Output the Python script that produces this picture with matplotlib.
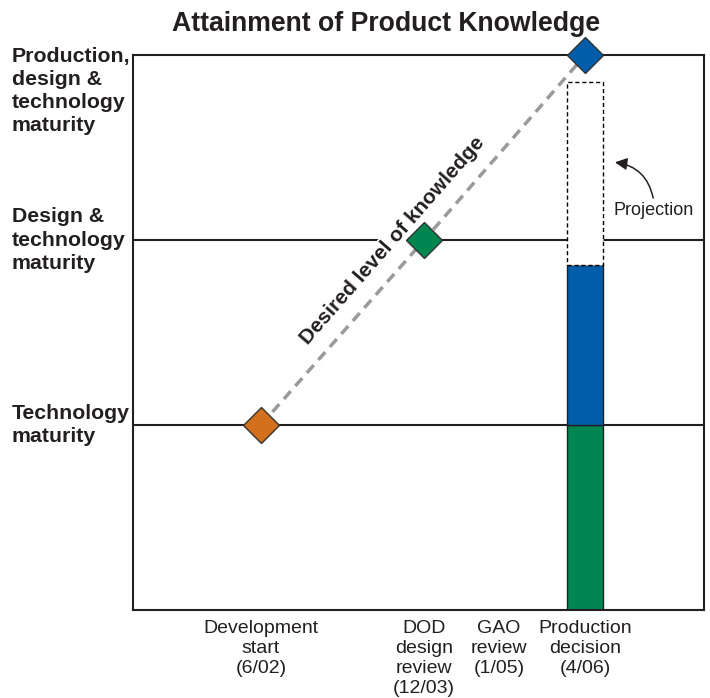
import matplotlib
matplotlib.use("Agg")
import matplotlib.pyplot as plt
import numpy as np
from matplotlib.transforms import blended_transform_factory

plt.rcParams['font.family'] = ['Liberation Sans', 'DejaVu Sans']

# ---------------- data ----------------
title = "Attainment of Product Knowledge"
milestones = ["Development\nstart\n(6/02)", "DOD\ndesign\nreview\n(12/03)",
              "GAO\nreview\n(1/05)", "Production\ndecision\n(4/06)"]
knowledge_levels = ["Technology\nmaturity", "Design &\ntechnology\nmaturity",
                    "Production,\ndesign &\ntechnology\nmaturity"]
level_values = [1, 2, 3]

desired_milestone_idx = [0, 1, 3]
desired_levels = [1, 2, 3]
desired_colors = ["#D2701E", "#008651", "#005DAA"]
desired_label = "Desired level of knowledge"

attained_milestone_idx = 3
attained_segments = ["Technology", "Design", "Projection"]
attained_bottom = [0.0, 1.0, 1.865]
attained_height = [1.0, 0.865, 0.99]
attained_colors = ["#008651", "#005DAA", "white"]
projection_label = "Projection"

# ---------------- layout ----------------
milestone_pos = [2.24, 5.10, 6.41, 7.92]
W, H = 710, 698
fig = plt.figure(figsize=(W / 100, H / 100), dpi=100)
ax = fig.add_axes([133 / W, 88 / H, (704 - 133) / W, (610 - 55) / H])
ax.set_xlim(0, 10)
ax.set_ylim(0, 3)
dark = "#231f20"
for s in ax.spines.values():
    s.set_linewidth(1.5)
    s.set_color(dark)

ax.set_xticks(milestone_pos, milestones, fontsize=14, linespacing=1.24)
ax.tick_params(axis='x', length=0, pad=7, colors=dark)
ax.set_yticks([])

blend = blended_transform_factory(fig.transFigure, ax.transData)
for lab, v in zip(knowledge_levels, level_values):
    if v == 3:
        ax.text(12 / W, 3.043, lab, transform=blend, ha='left', va='top',
                fontsize=15.3, fontweight='bold', linespacing=1.27, color=dark,
                clip_on=False)
    else:
        ax.text(12 / W, v, lab, transform=blend, ha='left', va='center',
                fontsize=15.3, fontweight='bold', linespacing=1.27, color=dark,
                clip_on=False)

for v in level_values[:2]:
    ax.axhline(v, color=dark, lw=1.5, zorder=1)

# attained knowledge bar
bx = milestone_pos[attained_milestone_idx]
for seg, b, h, c in zip(attained_segments, attained_bottom, attained_height, attained_colors):
    if seg == "Projection":
        ax.bar(bx, h, bottom=b, width=0.63, color=c, edgecolor='black',
               linewidth=1, linestyle=(0, (3, 2)), zorder=2)
    else:
        ax.bar(bx, h, bottom=b, width=0.63, color=c, edgecolor=dark,
               linewidth=1, zorder=2)

# desired knowledge line and diamonds
dx = [milestone_pos[i] for i in desired_milestone_idx]
ax.plot(dx, desired_levels, color="#9a9a9a", lw=2.5, linestyle=(0, (3, 2)),
        zorder=3, solid_capstyle='butt')
for x, y, c in zip(dx, desired_levels, desired_colors):
    ax.plot([x], [y], marker='D', ms=18, color=c, mec="#333333", mew=1,
            zorder=5, clip_on=False)

# rotated label
p1 = ax.transData.transform((dx[0], desired_levels[0]))
p2 = ax.transData.transform((dx[-1], desired_levels[-1]))
d = p2 - p1
ang = np.degrees(np.arctan2(d[1], d[0]))
u = d / np.hypot(*d)
frac = 0.458
pm = ax.transData.inverted().transform(p1 + frac * d)
off = np.array([-u[1], u[0]]) * 22
ax.annotate(desired_label, xy=pm, xytext=off, textcoords='offset pixels',
            rotation=ang, rotation_mode='anchor', ha='center', va='center',
            fontsize=15, fontweight='bold', color=dark, zorder=4,
            bbox=dict(fc='white', ec='none', pad=2))

# projection annotation
ax.annotate("", xy=(8.44, 2.42), xytext=(9.11, 2.227),
            arrowprops=dict(arrowstyle='-|>', connectionstyle='arc3,rad=0.35',
                            color=dark, lw=1.1, mutation_scale=18,
                            shrinkA=0, shrinkB=0), zorder=4)
ax.text(9.12, 2.157, projection_label, ha='center', va='center',
        fontsize=13, color=dark)

fig.text(386 / W, (H - 31) / H, title, ha='center', va='baseline',
         fontsize=19.2, fontweight='bold', color=dark)

fig.savefig("out.png", dpi=100)
